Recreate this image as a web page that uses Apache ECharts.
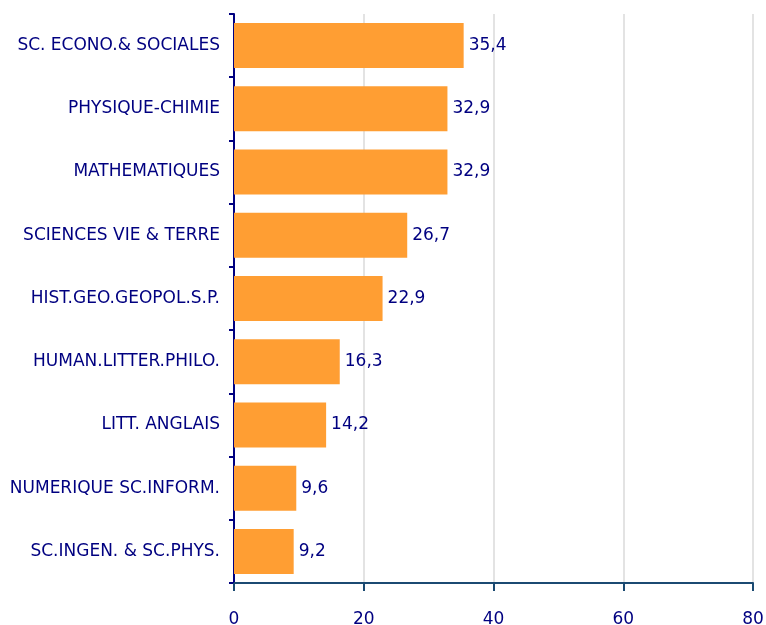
<!DOCTYPE html>
<html>
<head>
<meta charset="utf-8">
<script src="https://cdn.jsdelivr.net/npm/echarts@6/dist/echarts.min.js"></script>
<style>html,body{margin:0;padding:0;background:#fff}#chart{width:766px;height:625px}</style>
</head>
<body>
<div id="chart"></div>
<script>
var categories = ['SC. ECONO.& SOCIALES','PHYSIQUE-CHIMIE','MATHEMATIQUES','SCIENCES VIE & TERRE','HIST.GEO.GEOPOL.S.P.','HUMAN.LITTER.PHILO.','LITT. ANGLAIS','NUMERIQUE SC.INFORM.','SC.INGEN. & SC.PHYS.'];
var values = [35.4, 32.9, 32.9, 26.7, 22.9, 16.3, 14.2, 9.6, 9.2];
var xTicks = [0, 20, 40, 60, 80];

var myChart = echarts.init(document.getElementById('chart'));
var font = 'DejaVu Sans';
var option = {
	animation: false,
	grid: {left: 234, right: 13, top: 14, bottom: 42, containLabel: false, outerBoundsMode: 'none'},
	xAxis: {
		type: 'value',
		min: xTicks[0], max: xTicks[xTicks.length - 1], interval: 20,
		axisLine: {show: true, lineStyle: {color: '#1b4a72', width: 2}},
		axisTick: {show: true, length: 8, lineStyle: {color: '#1b4a72', width: 2}},
		axisLabel: {color: '#000080', fontFamily: font, fontSize: 17, margin: 28},
		splitLine: {show: true, lineStyle: {color: '#e3e3e3', width: 2}}
	},
	yAxis: {
		type: 'category',
		inverse: true,
		data: categories,
		axisLine: {show: true, lineStyle: {color: '#000080', width: 2}},
		axisTick: {show: true, length: 5, lineStyle: {color: '#000080', width: 2}},
		axisLabel: {color: '#000080', fontFamily: font, fontSize: 17, margin: 14}
	},
	series: [{
		type: 'bar',
		data: values,
		barWidth: 45,
		itemStyle: {color: '#ff9e33'},
		label: {
			show: true, position: 'right', distance: 5,
			color: '#000080', fontFamily: font, fontSize: 17,
			formatter: function (p) { return p.value.toFixed(1).replace('.', ','); }
		}
	}]
};
myChart.setOption(option);
</script>
</body>
</html>
